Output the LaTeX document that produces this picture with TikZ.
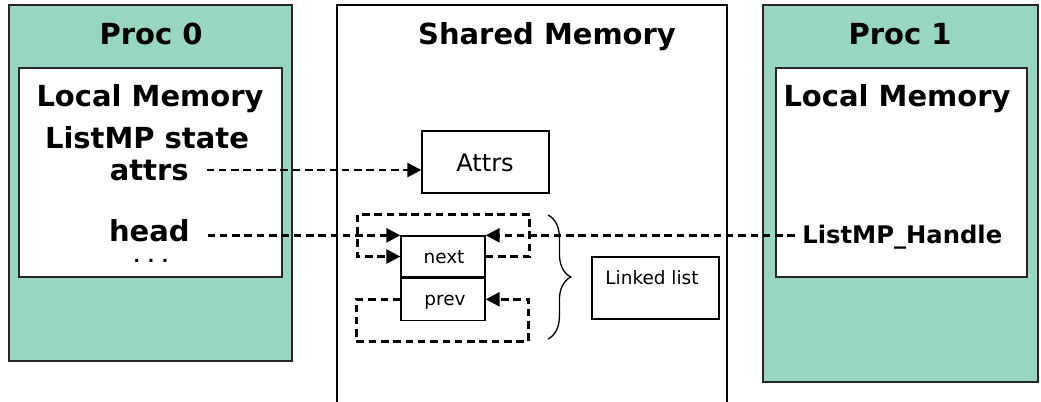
\documentclass[tikz,border=0pt]{standalone}
\usepackage{fontspec}
\setmainfont{DejaVu Sans}
\usetikzlibrary{positioning,arrows.meta,decorations.pathreplacing}
\definecolor{procgreen}{RGB}{152,214,192}

\begin{document}
\begin{tikzpicture}[x=0.02cm,y=-0.02cm]
		\tikzset{
			proc/.style={draw=black!85, fill=procgreen, line width=0.85pt, inner sep=0pt},
			mem/.style={draw=black!85, fill=white, line width=0.85pt, inner sep=0pt},
			cell/.style={draw, line width=0.75pt, inner sep=0pt},
			big/.style={font=\fontsize{16.5}{19}\selectfont\bfseries, inner sep=0pt},
			small/.style={font=\fontsize{10.5}{12}\selectfont, inner sep=0pt},
			ptr/.style={dash pattern=on 4.3pt off 2.7pt, line width=1.4pt, -{Triangle[length=8pt,width=8pt]}}
		}
		\clip (0,0) rectangle (1041,402);
		% the three memories
		\node [proc, minimum width=5.66cm, minimum height=7.12cm] (proc0) at (150.5,183) {};
		\node [mem, minimum width=5.26cm, minimum height=4.18cm] (local0) at (150.5,172.5) {};
		\node [draw, line width=0.85pt, inner sep=0pt, minimum width=7.8cm, minimum height=8.3cm] (shared) at (532,212.5) {};
		\node [proc, minimum width=5.5cm, minimum height=7.54cm] (proc1) at (900.5,193.5) {};
		\node [mem, minimum width=5.02cm, minimum height=4.18cm] (local1) at (901.5,172.5) {};
		% titles
		\node [big, anchor=base] (title0) at (151,45) {Proc 0};
		\node [big, anchor=base] (titleshm) at (547,45) {Shared Memory};
		\node [big, anchor=base] (title1) at (900,45) {Proc 1};
		\node [big, anchor=base] (lm0) at (150,107) {Local Memory};
		\node [big, anchor=base] (lm1) at (897,107) {Local Memory};
		\node [big, anchor=base] (state) at (147,149) {ListMP state};
		\node [big, anchor=base east] (attrs) at (189,180) {attrs};
		\node [big, anchor=base east] (head) at (190,241) {head};
		\node [font=\fontsize{9.5}{11}\selectfont\bfseries, inner sep=0pt, anchor=base] (more) at (151,262) {. . .};
		\node [font=\fontsize{13.8}{16}\selectfont\bfseries, inner sep=0pt, anchor=base west] (handle) at (802,243) {ListMP\_Handle};
		% shared memory contents
		\node [cell, minimum width=2.54cm, minimum height=1.24cm] (attrsbox) at (485.5,162) {};
		\node [font=\fontsize{13.7}{16}\selectfont, inner sep=0pt, anchor=base] (attrslbl) at (485,172) {Attrs};
		\node [cell, minimum width=1.68cm, minimum height=0.82cm] (next) at (443,256.5) {};
		\node [cell, minimum width=1.68cm, minimum height=0.84cm, below=0pt of next] (prev) {};
		\node [small, anchor=base] (nextlbl) at (444,263) {next};
		\node [small, anchor=base] (prevlbl) at (445,305) {prev};
		\node [cell, minimum width=2.54cm, minimum height=1.24cm] (listbox) at (655.5,288) {};
		\node [small, anchor=base] (listlbl) at (652,284) {Linked list};
		\draw [line width=0.75pt, decorate, decoration={brace, amplitude=13pt}] (548,215) -- (548,339);
		% pointers
		\draw [ptr, shorten <=10pt] (attrs.east) -- (attrs.east -| attrsbox.west);
		\draw [ptr, shorten <=10pt] (head.east |- next.north west) -- (next.north west);
		\draw [ptr, shorten <=4pt] (handle.west |- next.north east) -- (next.north east);
		\draw [ptr] (next.east) -- ++(44,0) -- ++(0,-42) -- ++(-172,0) -- ++(0,42) -- (next.west);
		\draw [ptr] (prev.west) -- ++(-44,0) -- ++(0,42) -- ++(172,0) -- ++(0,-42) -- (prev.east);
\end{tikzpicture}
\end{document}
